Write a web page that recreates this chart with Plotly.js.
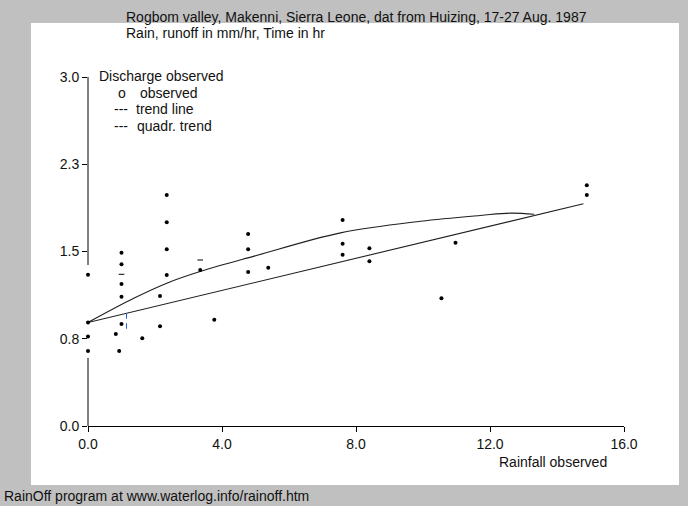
<!DOCTYPE html>
<html>
<head>
<meta charset="utf-8">
<script src="https://cdn.plot.ly/plotly-3.0.1.min.js"></script>
<style>
  html, body { margin: 0; padding: 0; background: #c0c0c0; }
  #chart { width: 688px; height: 506px; }
</style>
</head>
<body>
<div id="chart"></div>
<script>
// ---- data ----
const rainObs = [0, 0, 0, 0, 0.83, 0.93, 1.0, 1.0, 1.0, 1.0, 1.0, 1.62, 2.15, 2.15,
  2.35, 2.35, 2.35, 2.35, 3.35, 3.77, 4.78, 4.78, 4.78, 5.38, 7.6, 7.6, 7.6,
  8.4, 8.4, 10.55, 10.97, 14.89, 14.89];
const dischargeObs = [1.30, 0.89, 0.77, 0.645, 0.79, 0.645, 1.49, 1.39, 1.22, 1.11, 0.877, 0.754, 1.118, 0.857,
  1.986, 1.751, 1.519, 1.298, 1.341, 0.914, 1.65, 1.519, 1.324, 1.361, 1.771, 1.567, 1.473,
  1.527, 1.416, 1.098, 1.576, 2.069, 1.986];

// small partially drawn marks
const dashX = [1.0, 3.35];
const dashY = [1.304, 1.427];
const tickMarkX = [1.15, 1.15];
const tickMarkY = [0.946, 0.860];

// linear trend line (end points)
const trendX = [0, 14.79];
const trendY = [0.89, 1.91];

// quadratic trend (vertices)
const quadX = [0, 1.38, 2.37, 3.37, 4.96, 7.54, 9.93, 11.72, 12.62, 13.32];
const quadY = [0.89, 1.10, 1.23, 1.33, 1.46, 1.66, 1.76, 1.81, 1.83, 1.82];

const xTickVals = [0, 4, 8, 12, 16];
const xTickText = ['0.0', '4.0', '8.0', '12.0', '16.0'];
const yTickVals = [0, 0.75, 1.5, 2.25, 3.0];
const yTickText = ['0.0', '0.8', '1.5', '2.3', '3.0'];

const titleLine1 = 'Rogbom valley, Makenni, Sierra Leone, dat from Huizing, 17-27 Aug. 1987';
const titleLine2 = 'Rain, runoff in mm/hr, Time in hr';
const xAxisLabel = 'Rainfall observed';
const footer = 'RainOff program at www.waterlog.info/rainoff.htm';

// ---- layout geometry (pixels) ----
const W = 688, H = 506;
const L = 88, R = 624, T = 77, B = 426;
const fx = px => (px - L) / (R - L);
const fy = py => (B - py) / (B - T);

const FONT = 'Liberation Sans, Arial, sans-serif';
const TXT = '#111';
const FS = 14;

const traces = [
  { x: trendX, y: trendY, mode: 'lines', line: { color: '#202020', width: 1.1 }, hoverinfo: 'skip' },
  { x: quadX, y: quadY, mode: 'lines', line: { color: '#202020', width: 1.1, shape: 'spline', smoothing: 1 }, hoverinfo: 'skip' },
  { x: rainObs, y: dischargeObs, mode: 'markers', cliponaxis: false,
    marker: { color: '#000', size: 4, line: { width: 0 } } },
  { x: dashX, y: dashY, mode: 'markers', cliponaxis: false,
    marker: { symbol: 'line-ew', size: 4, line: { color: '#000', width: 1 } } },
  { x: tickMarkX, y: tickMarkY, mode: 'markers', cliponaxis: false,
    marker: { symbol: 'line-ns', size: 4, line: { color: '#2a5fd0', width: 1 } } }
];

function ann(text, px, py, anchor) {
  return { text: text, xref: 'paper', yref: 'paper', x: fx(px), y: fy(py),
    xanchor: anchor || 'left', yanchor: 'middle', showarrow: false,
    font: { family: FONT, size: FS, color: TXT } };
}

const layout = {
  width: W, height: H,
  margin: { l: L, r: W - R, t: T, b: H - B, pad: 0 },
  paper_bgcolor: '#c0c0c0',
  plot_bgcolor: '#ffffff',
  showlegend: false,
  font: { family: FONT, size: FS, color: TXT },
  xaxis: {
    range: [0, 16], tickmode: 'array', tickvals: xTickVals, ticktext: xTickText,
    showgrid: false, zeroline: false, showline: true, linecolor: '#000', linewidth: 1,
    ticks: 'outside', ticklen: 5, tickcolor: '#000', tickwidth: 1,
    tickfont: { family: FONT, size: FS, color: TXT }, fixedrange: true
  },
  yaxis: {
    range: [0, 3], tickmode: 'array', tickvals: yTickVals, ticktext: yTickText,
    showgrid: false, zeroline: false, showline: false,
    ticks: 'outside', ticklen: 5, tickcolor: '#000', tickwidth: 1,
    tickfont: { family: FONT, size: FS, color: TXT }, fixedrange: true
  },
  shapes: [
    { type: 'rect', xref: 'paper', yref: 'paper', layer: 'below',
      x0: fx(31), x1: fx(679), y0: fy(485), y1: fy(23),
      fillcolor: '#ffffff', line: { width: 0 } },
    // y axis line drawn in two parts (the reference shows a gap)
    { type: 'line', xref: 'paper', yref: 'y', x0: 0, x1: 0, y0: 0, y1: 0.585,
      line: { color: '#000', width: 1 } },
    { type: 'line', xref: 'paper', yref: 'y', x0: 0, x1: 0, y0: 1.384, y1: 3,
      line: { color: '#000', width: 1 } }
  ],
  annotations: [
    ann(titleLine1, 124, 17),
    ann(titleLine2, 124, 33),
    ann('Discharge observed', 97, 76),
    ann('o', 116, 93),
    ann('observed', 138, 93),
    ann('---', 112, 109),
    ann('trend line', 134, 109),
    ann('---', 112, 126),
    ann('quadr. trend', 135, 126),
    ann(xAxisLabel, 497, 462),
    ann(footer, 2, 496)
  ]
};

Plotly.newPlot('chart', traces, layout, { displayModeBar: false, staticPlot: true });
</script>
</body>
</html>
